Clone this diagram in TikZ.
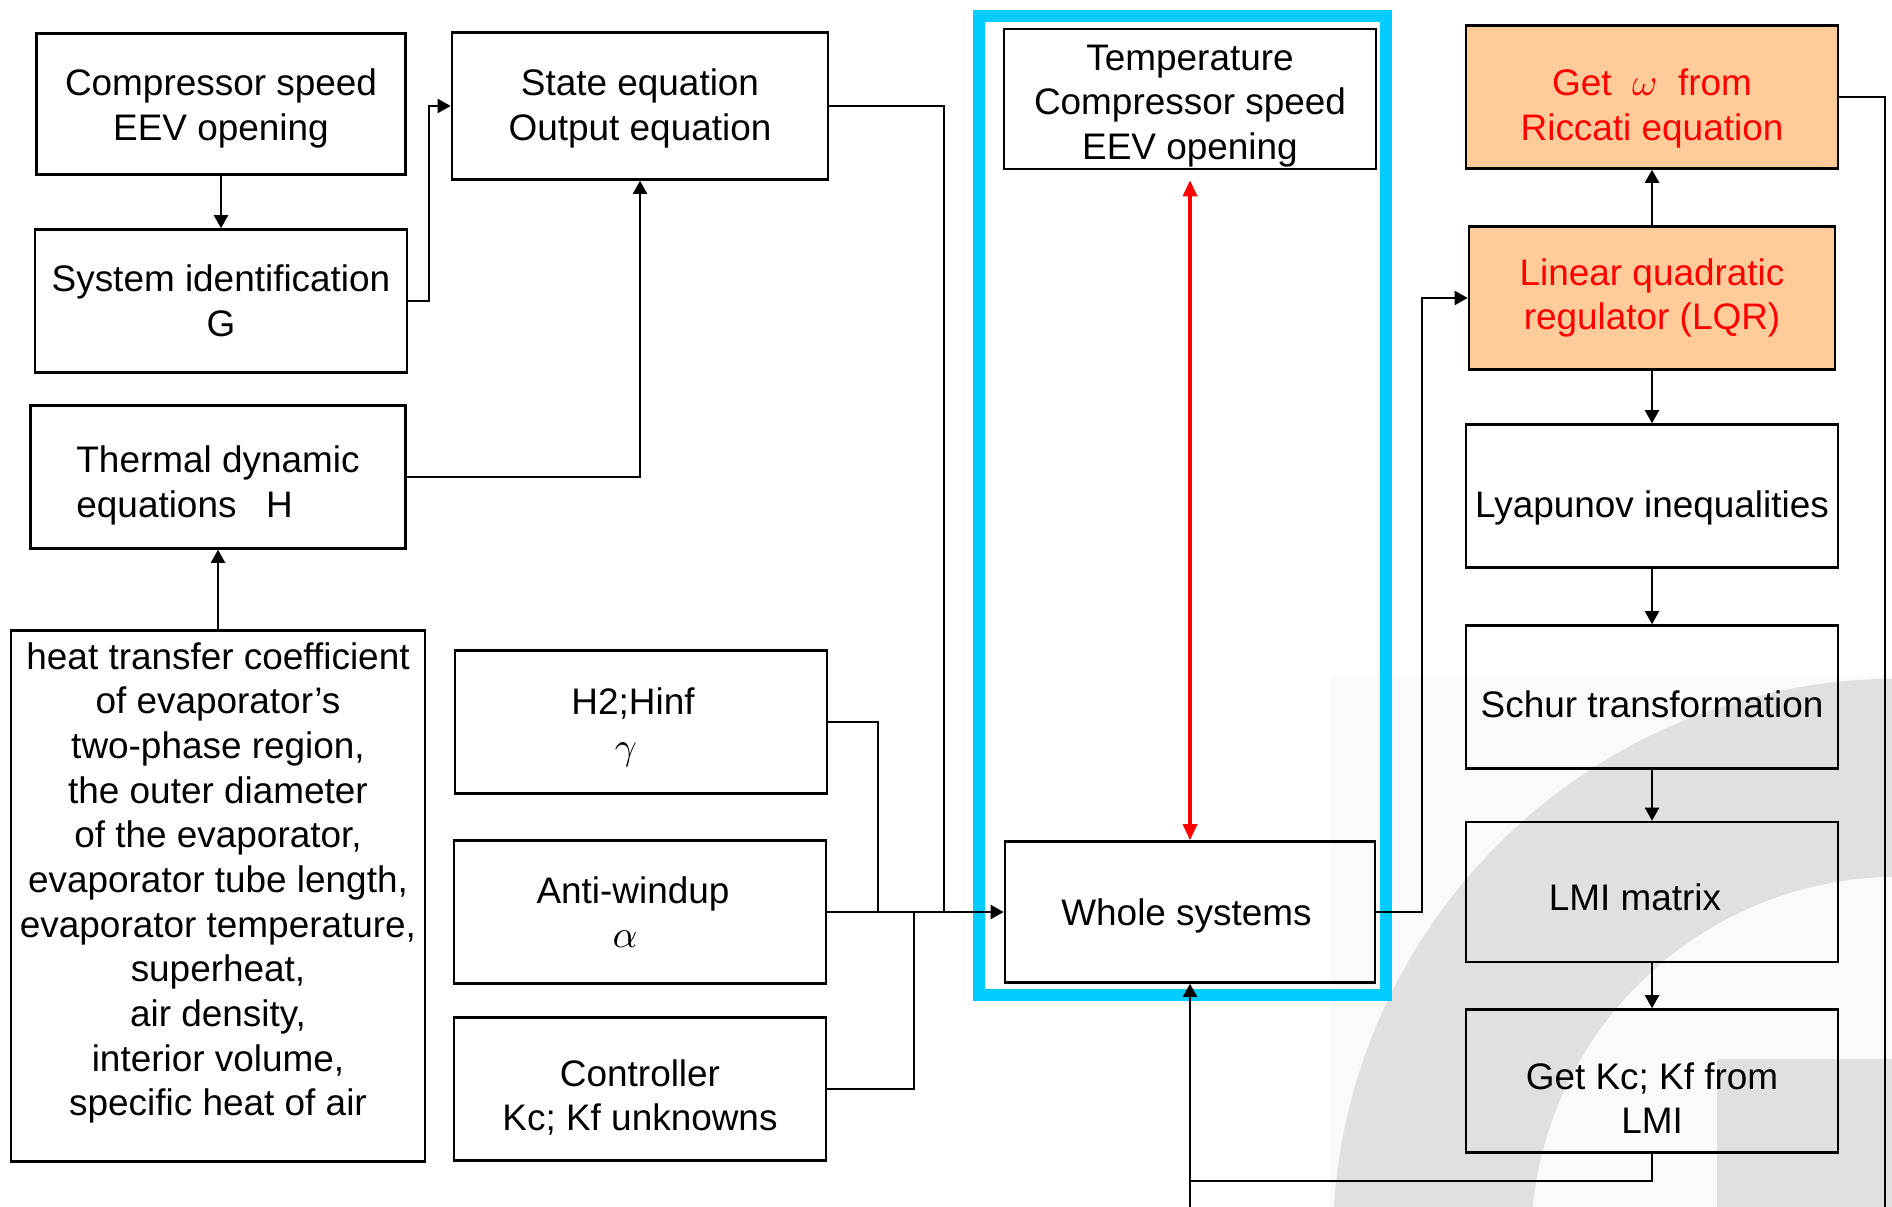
\documentclass[tikz,border=0pt]{standalone}
\usepackage{fontspec}
\setmainfont{Liberation Sans}
\usepackage{tikz}
\usetikzlibrary{positioning,arrows.meta,calc}
\definecolor{frameblue}{RGB}{0,204,255}
\definecolor{lqrfill}{RGB}{255,204,153}
\definecolor{markgray}{RGB}{224,224,224}
\definecolor{markpale}{RGB}{250,250,250}
% pushes the text of a box down (#1 = height of the first line)
\newcommand{\dropto}[1]{\rule{0pt}{#1}}

\begin{document}
\begin{tikzpicture}[x=0.01cm,y=-0.01cm,font=\fontsize{10.5}{12.7}\selectfont,
  box/.style={draw,line width=0.7pt,align=center,minimum width=3.72cm,minimum height=1.43cm,inner sep=1pt},
  hot/.style={box,fill=lqrfill,text=red},
  arr/.style={line width=0.6pt,-{Triangle[length=1.3mm,width=1.4mm]}},
  link/.style={line width=0.6pt},
  redarr/.style={red,line width=0.9pt,{Triangle[length=1.6mm,width=1.4mm]}-{Triangle[length=1.6mm,width=1.4mm]}}]
\useasboundingbox (0,0) rectangle (1892,1207);
% watermark in the corner
\fill[markpale] (1330,676) rectangle (1892,1207);
\begin{scope}
\clip (1330,676) rectangle (1892,1207);
\fill[markgray,even odd rule] (1898,1244) circle[radius=5.65cm] (1898,1244) circle[radius=3.67cm];
\fill[markgray] (1717,1059) rectangle (1892,1207);
\end{scope}
\draw[frameblue,line width=3.4pt] (979,16) rectangle (1386,995);
% left column
\node[box,minimum width=3.69cm,minimum height=1.41cm] (comp) at (221,104) {\dropto{10pt}Compressor speed\\EEV opening};
\node[box] (sysid) at (221,301) {System identification\\G};
\node[box,minimum width=3.75cm,align=left] (thermal) at (218,477) {\dropto{12.4pt}Thermal dynamic\\equations\hspace{0.8em}H};
\node[box,minimum width=4.14cm,minimum height=5.31cm] (heat) at (218,896) {heat transfer coefficient\\of evaporator’s\\two-phase region,\\the outer diameter\\of the evaporator,\\evaporator tube length,\\evaporator temperature,\\superheat,\\air density,\\interior volume,\\specific heat of air\rule[-9.6pt]{0pt}{9.6pt}};
% middle column
\node[box,minimum width=3.76cm,minimum height=1.47cm] (state) at (640,106) {\dropto{9pt}State equation\\Output equation};
\node[box] (htwo) at (641,722) {\dropto{10.6pt}H2;Hinf\hspace*{0.16cm}\\$\gamma$\hspace*{0.3cm}};
\node[box] (awind) at (640,912) {Anti-windup\hspace*{0.14cm}\\$\alpha$\hspace*{0.3cm}};
\node[box] (ctrl) at (640,1089) {\dropto{12.4pt}Controller\\Kc; Kf unknowns};
% framed part
\node[box,minimum height=1.40cm,inner sep=0pt] (temp) at (1190,99) {\dropto{11.2pt}Temperature\\Compressor speed\\EEV opening};
\node[box,minimum width=3.70cm,minimum height=1.41cm] (whole) at (1190,912) {\dropto{10pt}Whole systems\hspace*{0.07cm}};
% right column
\node[hot] (omega) at (1652,97) {\dropto{14pt}Get\ \ $\omega$\ \ from\\Riccati equation};
\node[hot,minimum width=3.66cm] (lqr) at (1652,298) {Linear quadratic\\regulator (LQR)};
\node[box] (lyap) at (1652,496) {\dropto{14.6pt}Lyapunov inequalities};
\node[box] (schur) at (1652,697) {\dropto{11.8pt}Schur transformation};
\node[box,minimum height=1.40cm] (lmi) at (1652,892) {\dropto{10.6pt}LMI matrix\hspace*{0.34cm}};
\node[box] (getk) at (1652,1081) {\dropto{17.4pt}Get Kc; Kf from\\LMI};
\coordinate (rim) at (1885,1207);
\coordinate (loop) at (1190,1181);
\coordinate (feed) at (1190,1207);
% connectors
\draw[arr] (comp) -- (sysid);
\draw[arr] (sysid.east) -- ++(21,0) |- (state.west);
\draw[arr] (thermal.east) -| (state.south);
\draw[arr] (heat) -- (thermal);
\draw[link] (state.east) -| ($(whole.west)+(-60,0)$);
\draw[link] (htwo.east) -| ($(awind.east)+(51,0)$);
\draw[link] (ctrl.east) -| ($(awind.east)+(87,0)$);
\draw[arr] (awind.east) -- (whole.west);
\draw[redarr,shorten <=0.1cm] (temp.south) -- (whole.north);
\draw[arr] (whole.east) -- ++(46,0) |- (lqr.west);
\draw[arr] (lqr) -- (omega);
\foreach \a/\b in {lqr/lyap,lyap/schur,schur/lmi,lmi/getk}
  \draw[arr] (\a) -- (\b);
\draw[link] (omega.east) -| (rim);
\draw[link] (getk.south) |- (loop);
\draw[arr] (feed) -- (whole.south);
\end{tikzpicture}
\end{document}
